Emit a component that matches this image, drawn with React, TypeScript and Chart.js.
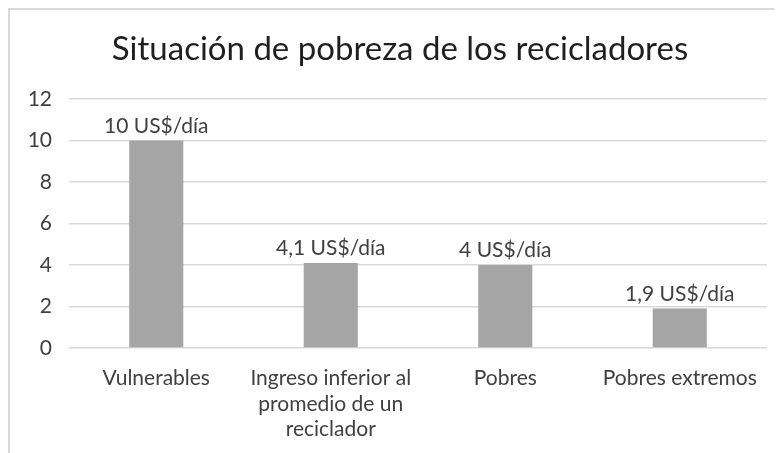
import React, { useEffect, useRef } from "react";
import { Chart, registerables } from "chart.js";

Chart.register(...registerables);

const title = "Situación de pobreza de los recicladores";
const categories: string[][] = [
  ["Vulnerables"],
  ["Ingreso inferior al", "promedio de un", "reciclador"],
  ["Pobres"],
  ["Pobres extremos"],
];
const values = [10, 4.1, 4, 1.9];
const valueLabels = ["10 US$/día", "4,1 US$/día", "4 US$/día", "1,9 US$/día"];
const yMin = 0;
const yMax = 12;
const yStep = 2;

const FONT = "Lato, 'Noto Sans', sans-serif";

const dataLabelPlugin = {
  id: "dataLabels",
  afterDatasetsDraw(chart: any) {
    const ctx = chart.ctx;
    const meta = chart.getDatasetMeta(0);
    ctx.save();
    ctx.font = `21px ${FONT}`;
    ctx.fillStyle = "#404040";
    ctx.textAlign = "center";
    ctx.textBaseline = "bottom";
    meta.data.forEach((bar: any, i: number) => {
      ctx.fillText(valueLabels[i], bar.x, bar.y - 4);
    });
    ctx.restore();
  },
};

const titlePlugin = {
  id: "customTitle",
  afterDraw(chart: any) {
    const ctx = chart.ctx;
    ctx.save();
    ctx.font = `33px ${FONT}`;
    ctx.fillStyle = "#1f1f1f";
    ctx.textAlign = "center";
    ctx.textBaseline = "alphabetic";
    ctx.fillText(title, 390, 50);
    ctx.restore();
  },
};

export default function App() {
  const ref = useRef<HTMLCanvasElement>(null);
  useEffect(() => {
    if (!ref.current) return;
    const chart = new Chart(ref.current, {
      type: "bar",
      data: {
        labels: categories,
        datasets: [
          {
            data: values,
            backgroundColor: "#A5A5A5",
            borderWidth: 0,
            barPercentage: 0.31,
            categoryPercentage: 1,
          },
        ],
      },
      options: {
        animation: false,
        responsive: false,
        devicePixelRatio: 1,
        layout: { padding: { left: 0, right: 15, top: 89, bottom: 0 } },
        plugins: {
          legend: { display: false },
          tooltip: { enabled: false },
          title: { display: false },
        },
        scales: {
          x: {
            grid: { display: false },
            border: { display: false },
            ticks: {
              color: "#404040",
              font: { family: FONT, size: 21, lineHeight: 1.2 },
              padding: 10,
              maxRotation: 0,
              autoSkip: false,
            },
            afterFit: (s: any) => {
              s.height = 105;
            },
          },
          y: {
            min: yMin,
            max: yMax,
            grid: { color: "#D9D9D9", lineWidth: 1.5, drawTicks: false },
            border: { display: false },
            ticks: {
              stepSize: yStep,
              color: "#404040",
              font: { family: FONT, size: 21 },
              padding: 17,
            },
            afterFit: (s: any) => {
              s.width = 59;
            },
          },
        },
      },
      plugins: [dataLabelPlugin, titlePlugin],
    });
    return () => chart.destroy();
  }, []);
  return (
    <div
      style={{
        width: 774,
        height: 445,
        boxSizing: "border-box",
        borderTop: "2px solid #D9D9D9",
        borderLeft: "2px solid #D9D9D9",
        background: "#fff",
        overflow: "hidden",
      }}
    >
      <canvas ref={ref} width={772} height={443} style={{ display: "block" }} />
    </div>
  );
}
